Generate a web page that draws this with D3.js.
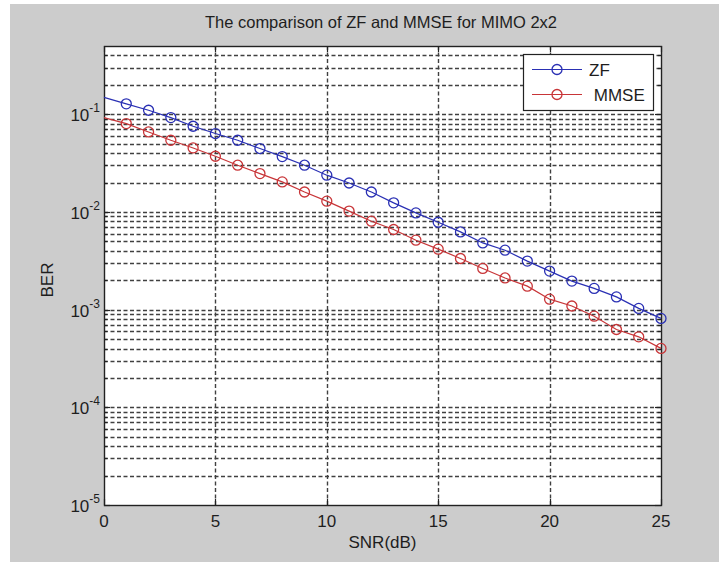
<!DOCTYPE html>
<html>
<head>
<meta charset="utf-8">
<script src="https://cdn.jsdelivr.net/npm/d3@7"></script>
<style>
  html, body { margin: 0; padding: 0; background: #ffffff; }
  svg { display: block; }
  text { font-family: "Liberation Sans", Arial, Helvetica, sans-serif; fill: #1e1e1e; }
</style>
</head>
<body>
<svg id="chart" width="719" height="562"></svg>
<script>
// ---------- data ----------
const snr = [0,1,2,3,4,5,6,7,8,9,10,11,12,13,14,15,16,17,18,19,20,21,22,23,24,25];
const berZF = [0.149,0.128,0.110,0.0925,0.0754,0.0635,0.0542,0.0446,0.0369,0.0301,
               0.0238,0.0198,0.0160,0.0124,0.00978,0.00785,0.00625,0.00482,0.00406,0.00314,
               0.00248,0.00196,0.00165,0.00135,0.00103,0.000813];
const berMMSE = [0.0925,0.0803,0.0659,0.0542,0.0452,0.0372,0.0301,0.0247,0.0203,0.0160,
                 0.0129,0.0102,0.00804,0.00661,0.00514,0.00416,0.00334,0.00264,0.00211,0.00174,
                 0.00128,0.00109,0.000857,0.000626,0.000527,0.000401];
const seriesNames = ["ZF", " MMSE"];
const xTicks = [0,5,10,15,20,25];
const yExponents = [-5,-4,-3,-2,-1];
const titleText = "The comparison of ZF and MMSE for MIMO 2x2";
const xLabel = "SNR(dB)";
const yLabel = "BER";

// ---------- layout ----------
const svg = d3.select("#chart");
const W = 719, H = 562;
const plot = {left: 104, right: 661, top: 46, bottom: 505};
const colors = ["#2a30b4", "#c83538"];

svg.append("rect").attr("x", 10).attr("y", 4).attr("width", W - 10).attr("height", H - 4)
   .attr("fill", "#cccccc");

const x = d3.scaleLinear().domain([0, 25]).range([plot.left, plot.right]);
const y = d3.scaleLog().domain([1e-5, 0.5]).range([plot.bottom, plot.top]);

svg.append("rect").attr("x", plot.left).attr("y", plot.top)
   .attr("width", plot.right - plot.left).attr("height", plot.bottom - plot.top)
   .attr("fill", "#ffffff");

// grid values
const majorY = yExponents.map(e => Math.pow(10, e));
const minorY = [];
yExponents.forEach(e => {
  for (let k = 2; k <= 9; k++) {
    const v = k * Math.pow(10, e);
    if (v < 0.5) minorY.push(v);
  }
});

const grid = svg.append("g").attr("stroke", "#404040").attr("stroke-width", 1.4)
  .attr("stroke-dasharray", "4,2.5").attr("fill", "none");
majorY.concat(minorY).forEach(v => {
  if (v <= 1e-5) return;
  grid.append("line").attr("x1", plot.left).attr("x2", plot.right)
    .attr("y1", Math.round(y(v)) + 0.5).attr("y2", Math.round(y(v)) + 0.5);
});
xTicks.filter(t => t > 0 && t < 25).forEach(t => {
  grid.append("line").attr("y1", plot.top).attr("y2", plot.bottom)
    .attr("x1", Math.round(x(t)) + 0.5).attr("x2", Math.round(x(t)) + 0.5);
});

// tick marks (inside, on all four sides)
const ticks = svg.append("g").attr("stroke", "#222").attr("stroke-width", 1.2);
xTicks.forEach(t => {
  const px = Math.round(x(t)) + 0.5;
  ticks.append("line").attr("x1", px).attr("x2", px).attr("y1", plot.bottom).attr("y2", plot.bottom - 6);
  ticks.append("line").attr("x1", px).attr("x2", px).attr("y1", plot.top).attr("y2", plot.top + 6);
});
majorY.forEach(v => {
  const py = Math.round(y(v)) + 0.5;
  ticks.append("line").attr("x1", plot.left).attr("x2", plot.left + 6).attr("y1", py).attr("y2", py);
  ticks.append("line").attr("x1", plot.right).attr("x2", plot.right - 6).attr("y1", py).attr("y2", py);
});
minorY.forEach(v => {
  const py = Math.round(y(v)) + 0.5;
  ticks.append("line").attr("x1", plot.left).attr("x2", plot.left + 3).attr("y1", py).attr("y2", py);
  ticks.append("line").attr("x1", plot.right).attr("x2", plot.right - 3).attr("y1", py).attr("y2", py);
});

// frame
svg.append("rect").attr("x", plot.left + 0.5).attr("y", plot.top + 0.5)
   .attr("width", plot.right - plot.left).attr("height", plot.bottom - plot.top)
   .attr("fill", "none").attr("stroke", "#222").attr("stroke-width", 1.4);

// x tick labels
xTicks.forEach(t => {
  svg.append("text").attr("x", x(t)).attr("y", plot.bottom + 22)
    .attr("text-anchor", "middle").attr("font-size", 17).text(t);
});

// y tick labels
yExponents.forEach(e => {
  const py = y(Math.pow(10, e));
  const tx = svg.append("text").attr("x", 100).attr("y", py + 7)
    .attr("text-anchor", "end").attr("font-size", 17);
  tx.append("tspan").text("10");
  tx.append("tspan").attr("font-size", 12).attr("dy", -9).text(String(e));
});

// axis labels & title
svg.append("text").attr("x", 381).attr("y", 28).attr("text-anchor", "middle")
   .attr("font-size", 16.5).text(titleText);
svg.append("text").attr("x", x(12.5)).attr("y", 548).attr("text-anchor", "middle")
   .attr("font-size", 17).text(xLabel);
svg.append("text").attr("transform", "translate(53,280) rotate(-90)")
   .attr("text-anchor", "middle").attr("font-size", 17).text(yLabel);

// series
const line = d3.line().x((d, i) => x(snr[i])).y(d => y(d));
[berZF, berMMSE].forEach((s, si) => {
  const g = svg.append("g");
  g.append("path").datum(s).attr("d", line).attr("fill", "none")
    .attr("stroke", colors[si]).attr("stroke-width", 1.2);
  g.selectAll("circle").data(s.map((v, i) => [snr[i], v]).filter(d => d[0] >= 1))
    .enter().append("circle")
    .attr("cx", d => x(d[0])).attr("cy", d => y(d[1])).attr("r", 5)
    .attr("fill", "none").attr("stroke", colors[si]).attr("stroke-width", 1.3);
});

// legend
const lg = svg.append("g");
lg.append("rect").attr("x", 523.5).attr("y", 54.5).attr("width", 130).attr("height", 56)
  .attr("fill", "#ffffff").attr("stroke", "#222").attr("stroke-width", 1.2);
seriesNames.forEach((n, i) => {
  const ly = 69.5 + i * 25;
  lg.append("line").attr("x1", 532).attr("x2", 582).attr("y1", ly).attr("y2", ly)
    .attr("stroke", colors[i]).attr("stroke-width", 1.2);
  lg.append("circle").attr("cx", 557).attr("cy", ly).attr("r", 5)
    .attr("fill", "none").attr("stroke", colors[i]).attr("stroke-width", 1.3);
  lg.append("text").attr("x", 589).attr("y", ly + 6).attr("font-size", 17)
    .style("white-space", "pre").text(n);
});
</script>
</body>
</html>
